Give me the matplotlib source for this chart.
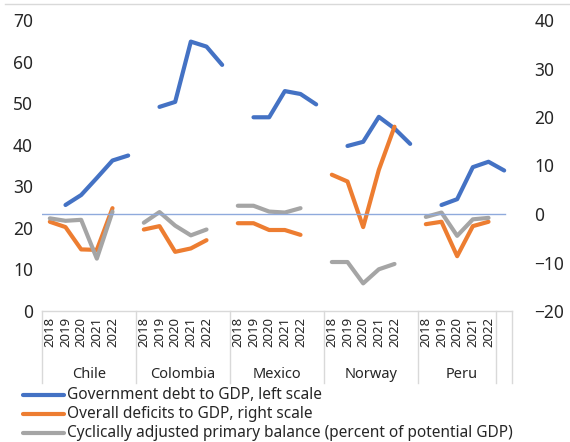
import numpy as np
import matplotlib
matplotlib.use("Agg")
import matplotlib.pyplot as plt
from matplotlib.lines import Line2D
import matplotlib.transforms as mtrans

plt.rcParams['font.family'] = ['Noto Sans', 'DejaVu Sans']

nan = np.nan
countries = ["Chile", "Colombia", "Mexico", "Norway", "Peru"]
years = ["2018", "2019", "2020", "2021", "2022", ""]  # each group has a blank slot

# Values per category slot (5 years + blank) for each country
debt = [nan, 25.5, 27.9, 32.0, 36.2, 37.4,
        nan, 49.1, 50.3, 64.8, 63.6, 59.2,
        nan, 46.6, 46.6, 52.9, 52.2, 49.7,
        nan, 39.7, 40.7, 46.7, 43.9, 40.2,
        nan, 25.5, 26.9, 34.6, 35.9, 33.8]
deficit = [-1.6, -2.7, -7.3, -7.4, 1.2, nan,
           -3.2, -2.5, -7.8, -7.1, -5.4, nan,
           -1.9, -1.9, -3.3, -3.3, -4.3, nan,
           8.1, 6.7, -2.7, 9.1, 18.0, nan,
           -2.1, -1.6, -8.7, -2.5, -1.6, nan]
cab = [-0.9, -1.4, -1.2, -9.2, 0.5, nan,
       -1.8, 0.4, -2.4, -4.4, -3.2, nan,
       1.7, 1.7, 0.5, 0.3, 1.2, nan,
       -9.9, -9.9, -14.3, -11.4, -10.3, nan,
       -0.6, 0.3, -4.5, -1.1, -0.8, nan]

labels = ["Government debt to GDP, left scale",
          "Overall deficits to GDP, right scale",
          "Cyclically adjusted primary balance (percent of potential GDP)"]
colors = ["#4472C4", "#ED7D31", "#A5A5A5"]

W, H = 570, 442
fig = plt.figure(figsize=(W / 100, H / 100), dpi=100)

left_px, right_px, top_px, bot_px = 42, 512, 20, 311
ax = fig.add_axes([left_px / W, 1 - bot_px / H, (right_px - left_px) / W, (bot_px - top_px) / H])
ax2 = ax.twinx()

n = len(debt)
x = np.arange(n) + 0.5

ax.plot(x, debt, color=colors[0], lw=3, solid_capstyle='round', solid_joinstyle='round', zorder=3)
ax2.plot(x, deficit, color=colors[1], lw=3, solid_capstyle='round', solid_joinstyle='round', zorder=3)
ax2.plot(x, cab, color=colors[2], lw=3, solid_capstyle='round', solid_joinstyle='round', zorder=3)
ax2.plot([0.0, n - 0.45], [0, 0], color="#8FAADC", lw=1.0, zorder=4)

ax.set_xlim(0, n)
ax.set_ylim(0, 70)
ax2.set_ylim(-20, 40)
ax.set_yticks(np.arange(0, 71, 10))
ax2.set_yticks(np.arange(-20, 41, 10))
for a in (ax, ax2):
    for s in a.spines.values():
        s.set_visible(False)
    a.tick_params(axis='y', length=0, labelsize=12.5, colors="#262626")
ax.tick_params(axis='y', pad=6.5)
ax2.tick_params(axis='y', pad=16)
ax.set_xticks([])
ax.spines['bottom'].set_visible(True)
ax.spines['bottom'].set_color("#D9D9D9")
ax.spines['bottom'].set_linewidth(1)

trans = mtrans.blended_transform_factory(ax.transData, ax.transAxes)
sep_bottom = -(383 - bot_px) / (bot_px - top_px)
ng = len(countries)
gsize = len(years)
boundaries = [g * gsize for g in range(ng)] + [n - 1, n]
for b in boundaries:
    ax.plot([b, b], [0, sep_bottom], transform=trans, color="#D9D9D9", lw=1, clip_on=False)

year_y = -(317 - bot_px) / (bot_px - top_px)
country_y = -(374 - bot_px) / (bot_px - top_px)
for g, c in enumerate(countries):
    for j, yr in enumerate(years):
        if yr:
            ax.text(g * gsize + j + 0.5, year_y, yr, transform=trans, rotation=90,
                    ha='center', va='top', fontsize=9.5, color="#262626")
    if g < ng - 1:
        cx = g * gsize + gsize / 2
    else:
        cx = g * gsize + (gsize - 1) / 2 + 0.3
    ax.text(cx, country_y, c, transform=trans,
            ha='center', va='center', fontsize=10.5, color="#262626")

# legend
leg_y = [395, 414, 433]
for lab, col, yy in zip(labels, colors, leg_y):
    fig.add_artist(Line2D([23 / W, 64 / W], [1 - yy / H, 1 - yy / H], color=col, lw=3,
                          solid_capstyle='round', transform=fig.transFigure))
    fig.text(67 / W, 1 - yy / H, lab, ha='left', va='center', fontsize=11.1, color="#262626")

# chart border (top)
fig.add_artist(Line2D([5 / W, 1], [1 - 4 / H, 1 - 4 / H], color="#D9D9D9", lw=1, transform=fig.transFigure))

fig.savefig("out.png", dpi=100)
